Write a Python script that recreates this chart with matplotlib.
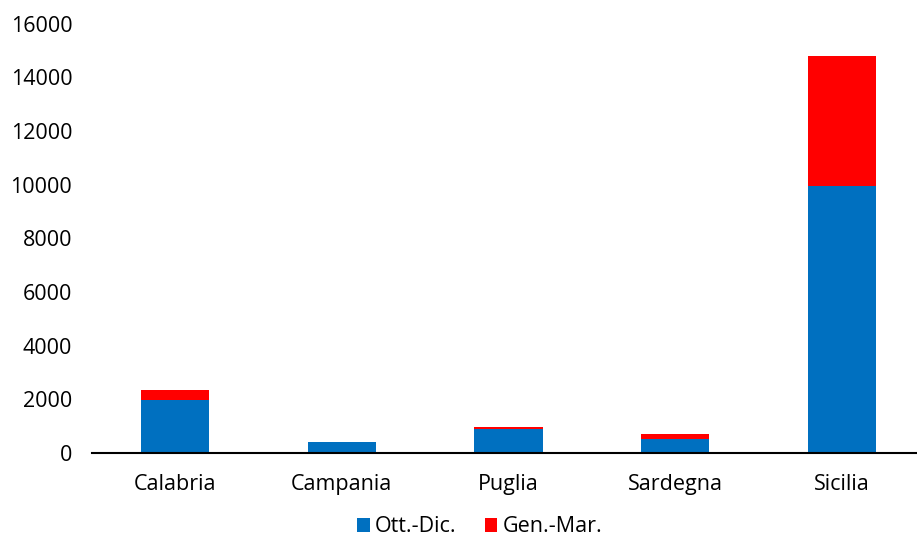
import matplotlib.pyplot as plt

regioni = ['Calabria', 'Campania', 'Puglia', 'Sardegna', 'Sicilia']
ott_dic = [1960, 420, 900, 520, 9940]
gen_mar = [375, 0, 80, 180, 4870]

plt.rcParams['font.family'] = ['Open Sans', 'DejaVu Sans']

fig = plt.figure(figsize=(9.17, 5.41), dpi=100)
ax = fig.add_axes([0.1, 0.163, 0.9, 0.793])

x = range(len(regioni))
ax.bar(x, ott_dic, width=0.41, color='#0070C0', label='Ott.-Dic.')
ax.bar(x, gen_mar, width=0.41, bottom=ott_dic, color='#FF0000', label='Gen.-Mar.')

ax.set_xlim(-0.5, 4.45)
ax.set_ylim(0, 16000)
ax.set_yticks(range(0, 16001, 2000))
ax.set_xticks(list(x))
ax.set_xticklabels(regioni)
ax.tick_params(axis='both', length=0, labelsize=15.5)
ax.tick_params(axis='y', pad=14)
ax.tick_params(axis='x', pad=15)

for side in ['top', 'right', 'left']:
    ax.spines[side].set_visible(False)
ax.spines['bottom'].set_linewidth(1.5)

ax.legend(loc='upper center', bbox_to_anchor=(0.47, -0.108), ncol=2, frameon=False,
          fontsize=15.5, handlelength=0.6, handleheight=0.6, handletextpad=0.25,
          columnspacing=1.3, borderpad=0.3)

fig.savefig('out.png', dpi=100)
